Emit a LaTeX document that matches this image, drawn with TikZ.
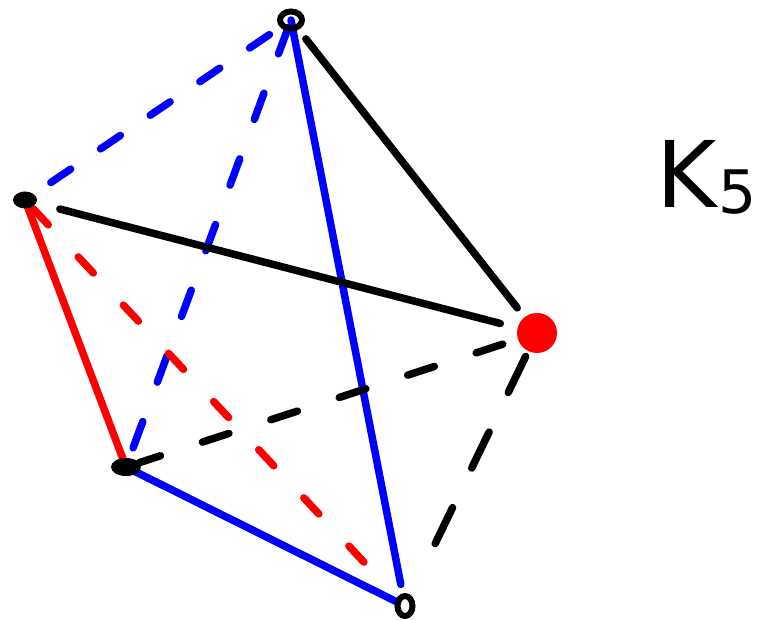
\documentclass[tikz,border=0pt]{standalone}
\usepackage{fontspec}
\setmainfont{DejaVu Sans}
\usetikzlibrary{shapes.geometric}
\begin{document}
\begin{tikzpicture}[x=1pt,y=-1pt,
  edge/.style={line width=7.5pt,line cap=round,line join=round},
  solidblue/.style={edge,draw={rgb,255:red,0;green,0;blue,255}},
  dashblue/.style={edge,draw={rgb,255:red,0;green,0;blue,255},dash pattern=on 24pt off 36pt},
  solidred/.style={edge,draw={rgb,255:red,255;green,0;blue,0}},
  dashred/.style={edge,draw={rgb,255:red,255;green,0;blue,0},dash pattern=on 22pt off 44pt},
  solidblack/.style={edge,draw=black},
  dashblack/.style={edge,draw=black,dash pattern=on 28pt off 44pt},
  blob/.style={fill=black,ellipse,inner sep=0pt},
  lbl/.style={inner sep=0pt,font=\fontsize{92}{92}\selectfont}
]
\useasboundingbox (0,0) rectangle (764,620);
% vertices
\coordinate (T) at (291,20);
\coordinate (L) at (25,200);
\coordinate (R) at (537,333);
\coordinate (B) at (126,467);
\coordinate (D) at (405,606);
% edges
\draw[dashblue,shorten <=26pt,shorten >=6pt] (T) -- (L);
\draw[dashblue,shorten <=8pt,shorten >=12pt,dash pattern=on 28pt off 42pt] (T) -- (B);
\draw[solidblue,shorten <=0pt,shorten >=22pt] (T) -- (D);
\draw[solidblack,shorten <=24pt,shorten >=32pt] (T) -- (R);
\draw[solidblack,shorten <=36pt,shorten >=38pt] (L) -- (R);
\draw[solidred,shorten <=0pt,shorten >=4pt] (L) -- (B);
\draw[dashred,shorten <=12pt,shorten >=22pt] (L) -- (D);
\draw[dashblack,shorten <=36pt,shorten >=14pt] (R) -- (B);
\draw[dashblack,shorten <=26pt,shorten >=26pt,dash pattern=on 40pt off 44pt] (R) -- (D);
\draw[solidblue,shorten <=8pt,shorten >=10pt] (B) -- (D);
% vertex marks
\node[draw=black,line width=6pt,ellipse,minimum width=22pt,minimum height=17pt,inner sep=0pt] (Tm) at (T) {};
\node[blob,minimum width=24pt,minimum height=17pt] (Lm) at (L) {};
\node[fill={rgb,255:red,255;green,0;blue,0},circle,minimum size=40pt,inner sep=0pt] (Rm) at (R) {};
\node[blob,minimum width=30pt,minimum height=18pt] (Bm) at (B) {};
\node[draw=black,line width=6pt,ellipse,minimum width=15pt,minimum height=20pt,inner sep=0pt] (Dm) at (D) {};
% label
\node[lbl,anchor=base] (K) at (687,208) {K};
\node[lbl,anchor=base,font=\fontsize{60}{60}\selectfont] (five) at (738,214) {5};
\end{tikzpicture}
\end{document}
